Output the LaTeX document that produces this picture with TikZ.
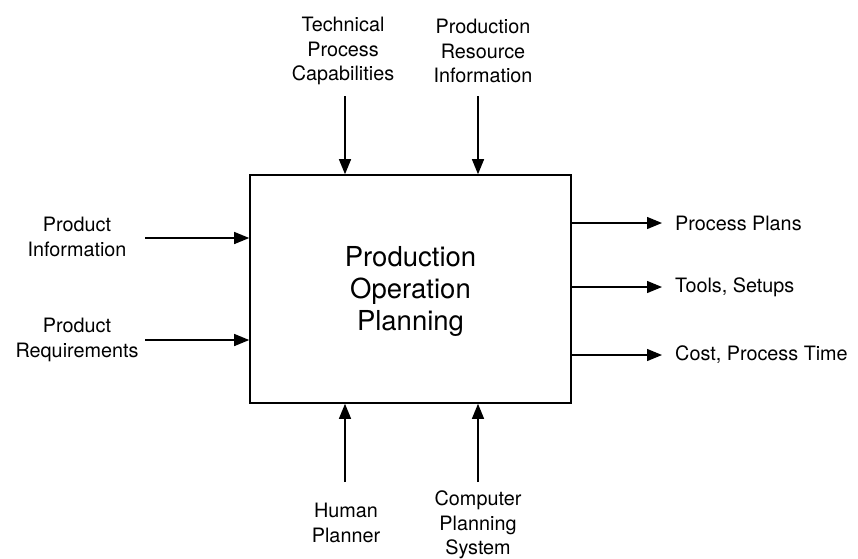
\documentclass[tikz,border=0pt]{standalone}
\usepackage{fontspec}
\setmainfont{TeX Gyre Heros}
\usetikzlibrary{arrows.meta, positioning}

\begin{document}
\begin{tikzpicture}[x=1pt, y=-1pt,
	label/.style={align=center, inner sep=0pt, font=\fontsize{19.8}{24.5}\selectfont},
	flow/.style={-{Triangle[length=15pt, width=12pt]}, line width=1.3pt}]
	\useasboundingbox (0,0) rectangle (858,558);
	\node [draw, line width=1.6pt, minimum width=321pt, minimum height=228pt, align=center, font=\fontsize{27.5}{32}\selectfont] (POP) at (410.5,289) {};
	\node [align=center, font=\fontsize{27.5}{32}\selectfont] (POP text) at (410.5,291) {Production\\ Operation\\ Planning};
	% inputs
	\node [label] (ProdInfo) at (77,237) {Product\\ Information};
	\node [label] (ProdReq) at (77,340) {Product\\ Requirements};
	\coordinate (ProdInfo arrow) at (145,238);
	\coordinate (ProdReq arrow) at (145,340);
	\draw [flow] (ProdInfo arrow) -- (ProdInfo arrow -| POP.west);
	\draw [flow] (ProdReq arrow) -- (ProdReq arrow -| POP.west);
	% controls
	\node [label] (TechCap) at (343,51) {Technical\\ Process\\ Capabilities};
	\node [label] (ResInfo) at (483,51) {Production\\ Resource\\ Information};
	\coordinate (TechCap arrow) at (345,96);
	\coordinate (ResInfo arrow) at (478,96);
	\draw [flow] (TechCap arrow) -- (TechCap arrow |- POP.north);
	\draw [flow] (ResInfo arrow) -- (ResInfo arrow |- POP.north);
	% mechanisms
	\node [label] (Human) at (346,523) {Human\\ Planner};
	\node [label] (CompSys) at (478,525) {Computer\\ Planning\\ System};
	\coordinate (Human arrow) at (345,482);
	\coordinate (CompSys arrow) at (478,482);
	\draw [flow] (Human arrow) -- (Human arrow |- POP.south);
	\draw [flow] (CompSys arrow) -- (CompSys arrow |- POP.south);
	% outputs
	\node [label, anchor=west] (Plans) at (675,223) {Process Plans};
	\node [label, anchor=west] (Tools) at (675,287) {Tools, Setups};
	\node [label, anchor=west] (Cost) at (675,355) {Cost, Process Time};
	\draw [flow] (POP.east |- Plans.west) -- ([xshift=-13pt]Plans.west);
	\draw [flow] (POP.east |- Tools.west) -- ([xshift=-13pt]Tools.west);
	\draw [flow] (POP.east |- Cost.west) -- ([xshift=-13pt]Cost.west);
\end{tikzpicture}
\end{document}
